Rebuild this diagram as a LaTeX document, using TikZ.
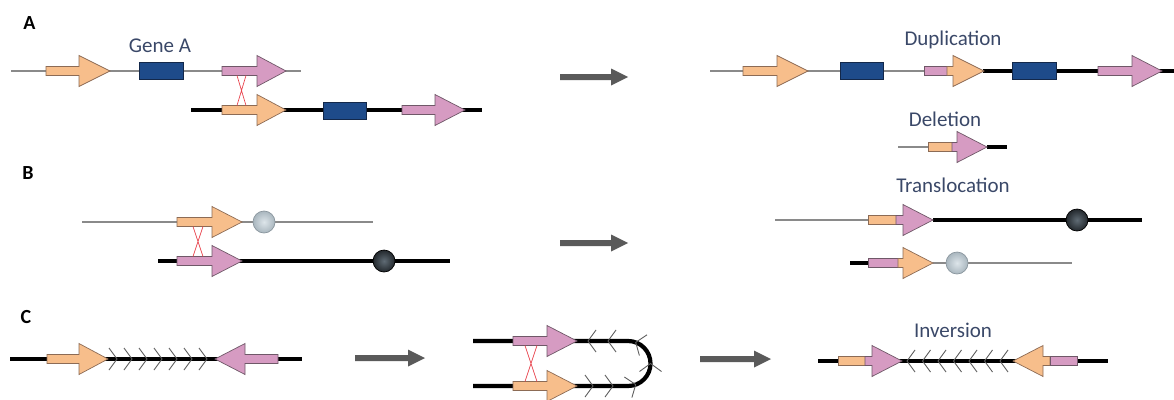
\documentclass[tikz,border=0pt]{standalone}
\usepackage{fontspec}
\setmainfont{Carlito}
\definecolor{orng}{HTML}{F7BE8B}
\definecolor{orngd}{HTML}{8C6B55}
\definecolor{pnk}{HTML}{D69BC2}
\definecolor{pnkd}{HTML}{6F5868}
\definecolor{blu}{HTML}{1E4B8A}
\definecolor{blud}{HTML}{13284A}
\definecolor{lgray}{HTML}{8A8A8A}
\definecolor{txt}{HTML}{3A4868}
\definecolor{bigarr}{HTML}{5A5A5A}
\definecolor{chev}{HTML}{5E5E5E}
\definecolor{xred}{HTML}{E8424C}
\definecolor{lbin}{HTML}{DDE5EA}
\definecolor{lbout}{HTML}{A9B6BE}
\definecolor{lbdraw}{HTML}{8A969E}
\definecolor{dbin}{HTML}{5F6B74}
\definecolor{dbout}{HTML}{23282D}
\newcommand\genearr[5]{%
  \draw[#5] (#1,#4-4.5) -- (#2,#4-4.5) -- (#2,#4-15.5) -- (#3,#4) -- (#2,#4+15.5) -- (#2,#4+4.5) -- (#1,#4+4.5) -- cycle;}
\newcommand\shaftbox[4]{\draw[#4] (#1,#3-4.5) rectangle (#2,#3+4.5);}
\newcommand\bigarrow[3]{%
  \fill[bigarr] (#1,#3-3) -- (#2-17,#3-3) -- (#2-17,#3-8.5) -- (#2,#3) -- (#2-17,#3+8.5) -- (#2-17,#3+3) -- (#1,#3+3) -- cycle;}
\newcommand\bluebox[3]{\draw[bluest] (#1,#3-8.5) rectangle (#2,#3+8.5);}
\newcommand\xcross[4]{\draw[xst] (#1,#3) -- (#2,#4) (#2,#3) -- (#1,#4);}
\tikzset{
  orst/.style={fill=orng,draw=orngd,line width=0.7},
  pkst/.style={fill=pnk,draw=pnkd,line width=0.7},
  bluest/.style={fill=blu,draw=blud,line width=0.8},
  gline/.style={draw=lgray,line width=2.9},
  bline/.style={draw=black,line width=4.2},
  xst/.style={draw=xred,line width=0.7},
  chevst/.style={draw=chev,line width=0.9},
  lightball/.style={inner color=lbin,outer color=lbout,draw=lbdraw,line width=0.7},
  darkball/.style={inner color=dbin,outer color=dbout,draw=black,line width=0.7},
  lbl/.style={text=txt,font=\fontsize{21}{25}\selectfont,anchor=base,inner sep=0},
  panel/.style={text=black,font=\bfseries\fontsize{20}{24}\selectfont,inner sep=0},
}
\begin{document}
\begin{tikzpicture}[x=1pt,y=-1pt]
\useasboundingbox (0,0) rectangle (1174,399);
% ---------- Panel A ----------
\node[panel] (pA) at (29.5,23.5) {A};
\node[lbl] (geneA) at (160,52) {Gene A};
\draw[gline] (11,71) -- (301,71);
\genearr{46}{79}{110}{71}{orst}
\bluebox{139}{183}{70.5}
\genearr{222}{257}{286}{71}{pkst}
\draw[bline] (191,110) -- (482,110);
\genearr{222}{257}{286}{110}{orst}
\bluebox{323}{366}{110.5}
\genearr{402}{435}{465}{110}{pkst}
\xcross{237}{246}{75.5}{105.5}
\bigarrow{560}{628}{77}
\node[lbl] (dup) at (953,45.7) {Duplication};
\draw[gline] (710,71) -- (983,71);
\draw[bline] (983,71) -- (1174,71);
\genearr{743}{777}{808}{71}{orst}
\bluebox{840}{883}{70.5}
\shaftbox{924}{947}{71}{pkst}
\genearr{947}{953}{984}{71}{orst}
\bluebox{1012}{1056}{70.5}
\genearr{1098}{1132}{1162}{71}{pkst}
\node[lbl] (del) at (945,126) {Deletion};
\draw[gline] (898,147) -- (928,147);
\draw[bline] (987,147) -- (1007,147);
\shaftbox{928}{952}{147}{orst}
\genearr{952}{957}{987}{147}{pkst}
% ---------- Panel B ----------
\node[panel] (pB) at (28,173) {B};
\draw[gline] (82,222) -- (373,222);
\genearr{177}{212}{242}{222}{orst}
\shade[lightball] (264,222) circle[radius=11];
\draw[bline] (158,261) -- (450,261);
\genearr{177}{212}{242}{261}{pkst}
\shade[darkball] (384,261) circle[radius=11];
\xcross{193}{203}{226.5}{256.5}
\bigarrow{560}{628}{243}
\node[lbl] (trans) at (953,192.7) {Translocation};
\draw[gline] (775,220) -- (868,220);
\draw[bline] (933,220) -- (1142,220);
\shaftbox{868}{896}{220}{orst}
\genearr{896}{903}{933}{220}{pkst}
\shade[darkball] (1077,220) circle[radius=11];
\draw[bline] (850,263) -- (868,263);
\draw[gline] (933,263) -- (1072,263);
\shaftbox{868}{898}{263}{pkst}
\genearr{898}{903}{933}{263}{orst}
\shade[lightball] (957,263) circle[radius=11];
% ---------- Panel C ----------
\node[panel] (pC) at (26,317) {C};
\draw[bline] (10,359) -- (302,359);
\foreach \x in {117,132,...,207} \draw[chevst] (\x-8,348) -- (\x,359) -- (\x-8,370);
\genearr{47}{79}{108}{359}{orst}
\genearr{278}{245}{215}{359}{pkst}
\bigarrow{355}{425}{358}
% folded middle
\draw[bline] (473,386) -- (628,386) arc[start angle=90,end angle=-90,radius=22.5] -- (473,341);
\foreach \x in {593,613} \draw[chevst] (\x-8,375) -- (\x,386) -- (\x-8,397);
\foreach \x in {588,608} \draw[chevst] (\x+8,330) -- (\x,341) -- (\x+8,352);
\draw[chevst] (631.9,397.6) -- (635.7,384.6) -- (624.4,377.0);
\draw[chevst] (639.5,371.5) -- (650.5,363.5) -- (661.5,371.5);
\draw[chevst] (647.0,334.8) -- (635.7,342.4) -- (639.4,355.5);
\genearr{513}{547}{577}{341}{pkst}
\genearr{513}{547}{577}{386}{orst}
\xcross{525}{537}{345.5}{381.5}
\bigarrow{700}{771}{359}
\node[lbl] (inv) at (953,337) {Inversion};
\draw[bline] (818,361) -- (1108,361);
\foreach \x in {907,922.5,...,1001} \draw[chevst] (\x+8,350) -- (\x,361) -- (\x+8,372);
\shaftbox{838}{865}{361}{orst}
\genearr{865}{872}{902}{361}{pkst}
\genearr{1050}{1043}{1013}{361}{orst}
\shaftbox{1050}{1077}{361}{pkst}
\end{tikzpicture}
\end{document}
